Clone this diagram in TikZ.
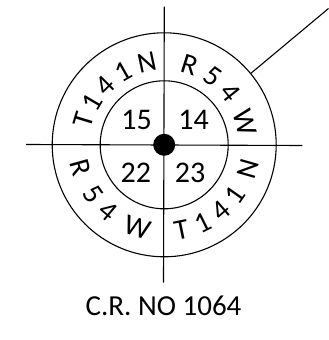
\documentclass[tikz,border=0pt]{standalone}
\usepackage{fontspec}
\setmainfont{Carlito}
\begin{document}
\begin{tikzpicture}[x=1pt,y=1pt, line width=1.1pt,
  lbl/.style={font=\fontsize{30}{30}\selectfont, inner sep=0pt},
  ring/.style={font=\fontsize{29}{29}\selectfont, inner sep=0pt}]
\useasboundingbox (0,0) rectangle (329,340);
\coordinate (c) at (164.2,195.2);
\draw (c) circle[radius=112];
\draw (c) circle[radius=64];
\coordinate (vt) at (164.3,333.3);
\coordinate (vb) at (163.5,57.3);
\coordinate (hl) at (26,195.5);
\coordinate (hr) at (302.3,194.5);
\draw (vt) -- (vb);
\draw (hl) -- (hr);
\path (c) ++(39.5:112) coordinate (dA);
\coordinate (dB) at (328.5,331.5);
\draw (dA) -- (dB);
\fill (c) circle[radius=11];
\node[lbl] (n15) at (136.7,219.7) {15};
\node[lbl] (n14) at (193.7,219.7) {14};
\node[lbl] (n22) at (135.8,167.5) {22};
\node[lbl] (n23) at (190,167.5) {23};
\foreach \a/\t [count=\i] in {163/T,149.5/1,135/4,119.5/1,102/N}
  \path (c) ++(\a:84) node[ring, rotate=\a-90] (ul\i) {\t};
\foreach \a/\t [count=\i] in {72.5/R,54.5/5,38.5/4,15.5/W}
  \path (c) ++(\a:84) node[ring, rotate=\a-90] (ur\i) {\t};
\foreach \a/\t [count=\i] in {195.5/R,215/5,230/4,252.5/W}
  \path (c) ++(\a:87) node[ring, rotate=\a+90] (ll\i) {\t};
\foreach \a/\t [count=\i] in {281.5/T,296.5/1,311/4,325/1,344/N}
  \path (c) ++(\a:87) node[ring, rotate=\a+90] (lr\i) {\t};
\node[lbl, font=\fontsize{29}{29}\selectfont] (cap) at (163.5,34.3) {C.R. NO 1064};
\end{tikzpicture}
\end{document}
